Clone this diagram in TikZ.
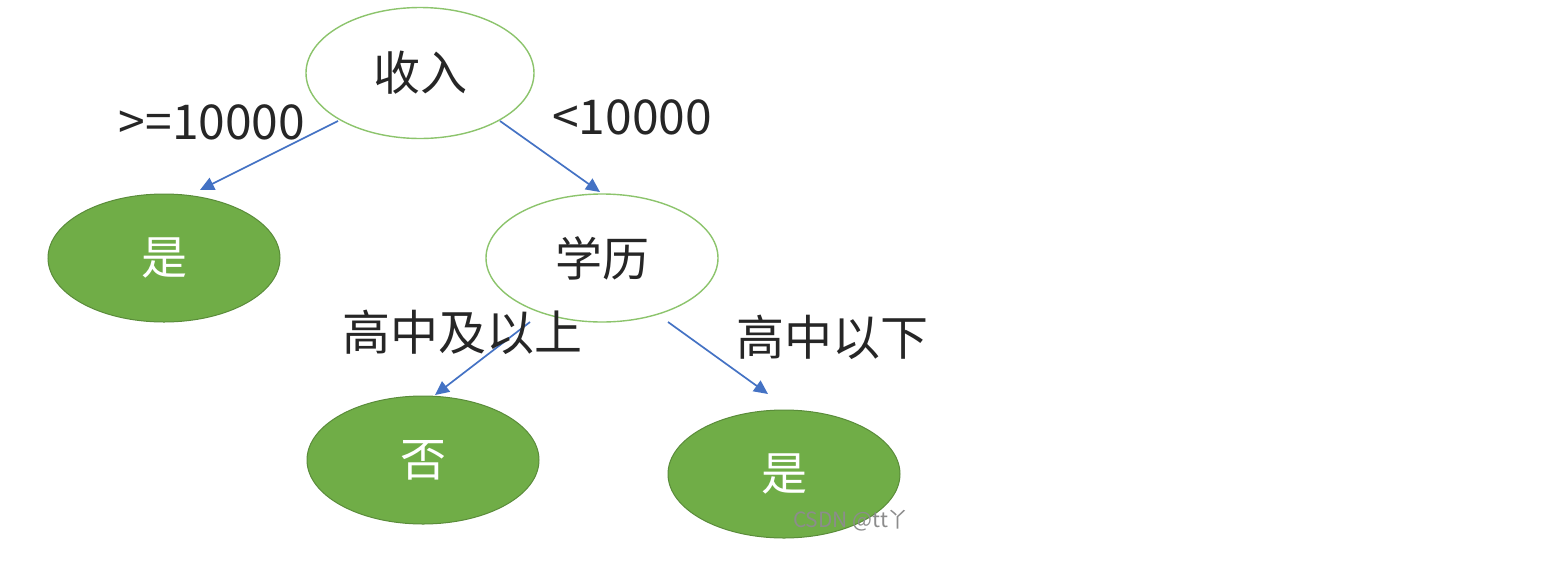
\documentclass[tikz,border=0pt]{standalone}
\usepackage{fontspec}
\setmainfont{Noto Sans CJK SC}
\usetikzlibrary{arrows.meta,shapes.geometric,calc}
\definecolor{lgreen}{HTML}{70AD47}
\definecolor{dgreen}{HTML}{5A8C3A}
\definecolor{oline}{HTML}{8CC46C}
\definecolor{eblue}{HTML}{4472C4}
\definecolor{tdark}{HTML}{262626}
\begin{document}
\begin{tikzpicture}[x=1pt,y=-1pt,
  hollow/.style={ellipse,draw=oline,line width=1.4pt,fill=white,minimum width=228pt,minimum height=131pt,inner sep=0pt,font=\fontsize{47}{50}\selectfont,text=tdark},
  leaf/.style={ellipse,draw=dgreen,line width=1pt,fill=lgreen,minimum width=232pt,minimum height=128pt,inner sep=0pt,font=\fontsize{46}{50}\selectfont,text=white},
  conn/.style={draw=eblue,line width=1.7pt,-{Triangle[length=14pt,width=13pt]}},
  lab/.style={font=\fontsize{48}{50}\selectfont,text=tdark,inner sep=0pt}]
\path[use as bounding box,fill=white] (0,0) rectangle (1556,587);
\node[hollow] (shou) at (420,73) {收入};
\node[leaf] (yes1) at (164,258) {是};
\node[hollow,minimum width=232pt,minimum height=128pt] (xue) at (602,258) {学历};
\node[leaf] (no) at (423,460) {否};
\node[leaf] (yes2) at (784,474) {是};
\draw[conn] ($(shou.center)+(-82,48)$) -- ($(yes1.center)+(36,-68)$);
\draw[conn] ($(shou.center)+(80,48)$) -- ($(xue.center)+(-2,-66)$);
\draw[conn] ($(xue.center)+(-72,64)$) -- ($(no.center)+(12,-65)$);
\draw[conn] ($(xue.center)+(66,64)$) -- ($(yes2.center)+(-16,-80)$);
\node[lab] (l1) at (212,122) {>=10000};
\node[lab] (l2) at (632,117) {<10000};
\node[lab] (l3) at (462,332) {高中及以上};
\node[lab] (l4) at (832,337) {高中以下};
\node[font=\fontsize{21}{23}\selectfont,text=black!45,inner sep=0pt] (wm) at (851,521) {CSDN @tt丫};
\end{tikzpicture}
\end{document}
